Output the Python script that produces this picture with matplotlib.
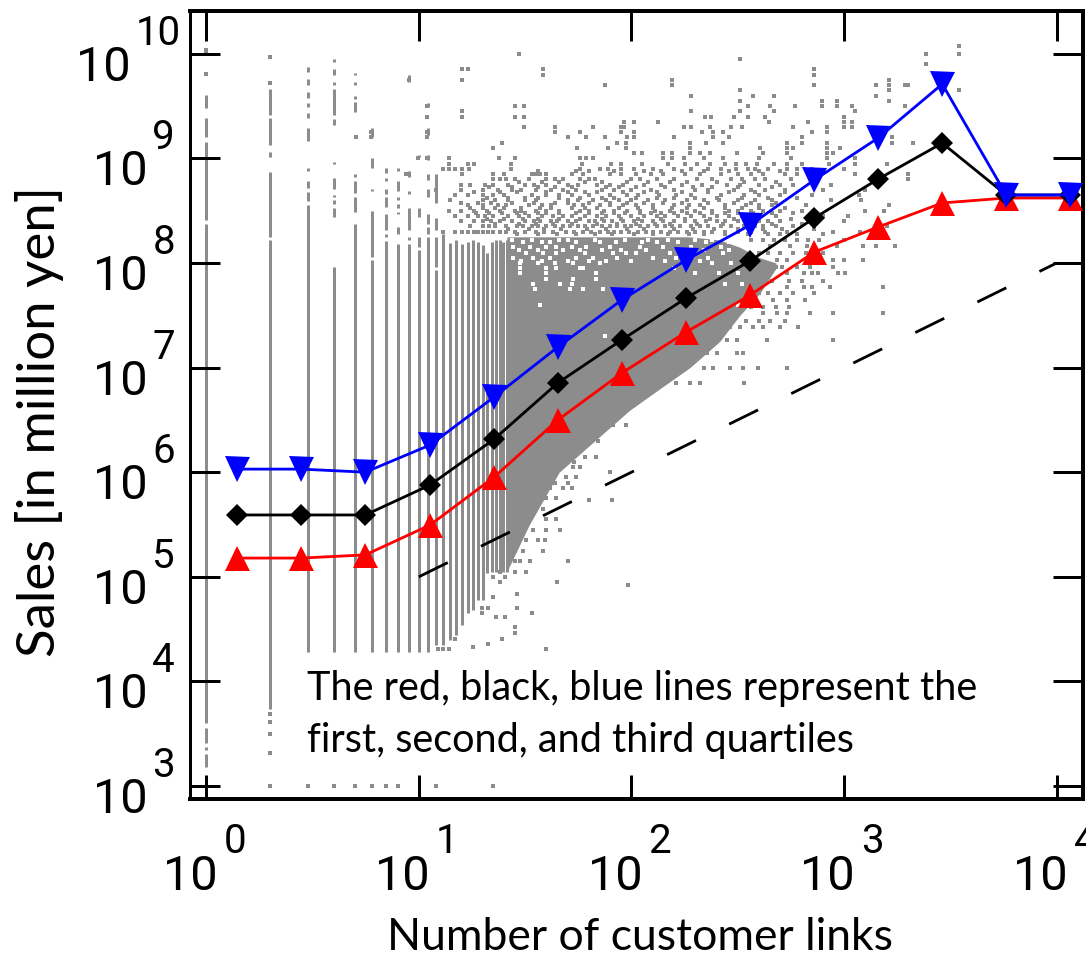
import matplotlib
matplotlib.use('Agg')
import matplotlib.pyplot as plt

# quartile curves
bin_x = [1.39, 2.8, 5.6, 11.3, 22.6, 45, 90, 181, 362, 724, 1448, 2896, 5792, 11585]
q1 = [1.51e5, 1.51e5, 1.62e5, 3.13e5, 8.99e5, 3.15e6, 8.87e6, 2.19e7, 4.94e7, 1.27e8, 2.21e8, 3.75e8, 4.18e8, 4.18e8]
q2 = [3.90e5, 3.90e5, 3.90e5, 7.55e5, 2.07e6, 7.13e6, 1.84e7, 4.63e7, 1.05e8, 2.69e8, 6.35e8, 1.40e9, 4.47e8, 4.47e8]
q3 = [1.07e6, 1.07e6, 1.00e6, 1.82e6, 5.24e6, 1.57e7, 4.43e7, 1.07e8, 2.31e8, 6.21e8, 1.57e9, 5.14e9, 4.47e8, 4.47e8]

guide_x = [10, 10000]
guide_y = [1e5, 1e8]

# vertical runs at integer link counts: x, log10 low, log10 high
col_x = [1, 1, 1, 1, 1, 1, 1, 1,
         2, 2, 2, 2, 2,
         3, 3, 3, 3, 3, 3, 3, 3, 3, 3,
         4, 4, 4, 4, 4, 4, 4, 4, 4, 4, 4,
         5, 5, 5, 5, 5, 5, 5, 5, 5,
         6, 6, 6, 6, 6,
         7, 7, 7, 7, 7, 7, 7,
         8, 8, 8, 8, 8, 8, 8,
         9, 9, 9, 9, 9, 9,
         10, 10, 10, 10,
         11, 11, 11, 11, 11, 11, 11, 11,
         12, 12, 12, 12,
         13, 14, 15, 16, 17, 18, 19, 20, 21, 22, 23, 24, 25, 26]
col_lo = [9.478, 9.207, 8.41, 3.60, 3.41, 3.345, 3.185, 3.0,
          9.415, 9.128, 9.01, 8.25, 3.74,
          9.83, 9.70, 9.574, 9.49, 9.39, 9.17, 8.88, 8.72, 8.59, 4.284,
          9.92, 9.80, 9.70, 9.415, 9.32, 8.95, 8.71, 8.63, 8.56, 8.44, 4.284,
          9.80, 9.70, 9.567, 9.446, 9.20, 8.82, 8.67, 8.49, 4.284,
          9.2, 8.91, 8.69, 8.06, 4.284,
          8.86, 8.78, 8.66, 8.54, 8.315, 8.25, 4.284,
          8.88, 8.69, 8.60, 8.53, 8.47, 8.28, 4.284,
          9.73, 8.82, 8.66, 8.315, 8.22, 4.284,
          9.01, 8.44, 8.155, 4.284,
          9.49, 9.22, 8.98, 8.79, 8.63, 8.37, 8.28, 4.284,
          8.57, 8.315, 7.965, 4.35,
          4.35, 4.40, 4.44, 4.54, 4.65, 4.68, 4.78, 4.78, 5.04, 5.05, 5.05, 5.05, 5.05, 5.05]
col_hi = [9.606, 9.383, 9.16, 8.37, 3.55, 3.375, 3.31, 3.09,
          9.66, 9.383, 9.06, 8.87, 8.22,
          9.875, 9.756, 9.63, 9.53, 9.437, 9.287, 8.905, 8.78, 8.68, 8.554,
          9.95, 9.85, 9.73, 9.66, 9.38, 8.97, 8.81, 8.65, 8.60, 8.53, 7.965,
          9.82, 9.727, 9.60, 9.535, 9.22, 8.85, 8.78, 8.63, 8.37,
          9.287, 9.0, 8.71, 8.50, 8.03,
          8.905, 8.81, 8.71, 8.63, 8.47, 8.28, 8.21,
          8.905, 8.78, 8.63, 8.56, 8.49, 8.347, 8.18,
          9.80, 8.88, 8.69, 8.53, 8.245, 8.18,
          9.03, 8.53, 8.245, 8.12,
          9.53, 9.287, 9.03, 8.85, 8.71, 8.47, 8.34, 8.245,
          8.85, 8.43, 8.245, 7.93,
          8.28, 8.19, 8.22, 8.18, 8.2, 8.22, 8.2, 8.17, 8.1, 8.2, 8.22, 8.22, 8.2, 8.22]

# solid part of the cloud
body_logx = [1.414, 1.52, 1.66, 1.85, 1.99, 2.135, 2.275, 2.415, 2.51, 2.604, 2.68]
body_lo = [5.05, 5.50, 6.0, 6.34, 6.59, 6.80, 7.0, 7.25, 7.50, 7.71, 7.95]
body_hi = [8.25, 8.25, 8.25, 8.25, 8.25, 8.25, 8.25, 8.22, 8.15, 8.05, 8.0]

# scattered firms, one row per log10 sales, positions as log10 links
speck_y = [10.07, 10.04, 10.0, 9.97, 9.95, 9.9, 9.85, 9.81, 9.8, 9.75, 9.72, 9.7, 9.65, 9.6, 9.55, 9.5, 9.45, 9.4, 9.35,
           9.3, 9.25, 9.2, 9.15, 9.1, 9.05, 9.0, 8.95, 8.9, 8.85, 8.8, 8.75, 8.7, 8.65, 8.6, 8.55, 8.5, 8.45, 8.4, 8.35, 8.3,
           8.16, 8.03, 7.9, 7.77, 7.65, 7.52, 7.39, 7.26, 7.14, 7.0, 6.85,
           6.45, 6.3, 6.15, 6.05, 6.0, 5.95, 5.85, 5.75, 5.73, 5.65, 5.55, 5.45, 5.35, 5.25, 5.15, 5.05,
           5.0, 4.95, 4.92, 4.84, 4.81, 4.7, 4.65, 4.62, 4.52, 4.46, 4.41, 4.36, 4.33, 4.31, 3.69, 3.615, 3.5, 3.32, 3.0,
           8.425, 8.375, 8.325, 8.275, 8.22, 8.1, 7.96, 7.83, 7.71, 7.58, 7.45,
           8.875, 8.775, 8.725, 8.675, 8.625, 8.575, 8.525, 8.475,
           6.55, 6.4, 6.25, 6.2, 6.1, 5.9]
speck_logx = [
    [3.54], [0.0], [1.47, 0.0, 3.385, 3.54], [0.301], [2.51], [3.385],
    [1.205, 1.23, 1.585, 2.86], [0.0], [1.585, 2.86], [0.955, 1.205, 2.19, 3.21], [0.301],
    [1.875, 2.19, 2.86, 3.15, 3.21, 3.285, 3.30], [2.51, 3.21, 3.54], [2.28, 2.57, 2.67, 3.15],
    [2.51, 2.895, 2.965, 3.21], [1.04, 1.45, 1.495, 2.55, 2.65, 2.77, 2.895, 2.965, 3.035, 3.285],
    [1.205, 2.28, 2.51, 2.67, 3.05], [1.04, 1.205, 1.45, 1.495, 2.345, 2.375, 2.48, 2.55, 2.63, 3.0],
    [1.965, 2.01, 2.125, 2.645, 2.83, 3.0, 3.035],
    [1.495, 1.64, 1.82, 1.95, 1.965, 2.245, 2.28, 2.37, 2.47, 2.52, 2.76, 2.92, 3.0, 3.035],
    [0.775, 1.04, 1.64, 1.757, 1.95, 2.01, 2.33, 2.385, 2.43, 2.85, 2.92],
    [0.705, 0.775, 1.04, 1.70, 1.785, 1.875, 1.98, 2.01, 2.2, 2.385, 2.46, 2.8, 3.225],
    [1.39, 1.934, 1.975, 2.275, 2.35, 2.43, 2.73, 2.8, 2.92, 3.225, 3.325],
    [1.35, 1.744, 1.89, 1.975, 2.275, 2.605, 2.73, 2.76, 2.92, 2.98],
    [2.01, 2.05, 2.15, 2.19, 2.275, 2.32, 2.37, 2.495, 2.62, 2.73, 2.92, 2.95],
    [0.997, 1.04, 1.143, 1.378, 1.45, 1.757, 1.785, 1.82, 2.15, 2.19, 2.245, 2.34, 2.43, 2.6, 2.75, 2.92, 3.05],
    [1.143, 1.23, 1.26, 1.435, 1.765, 1.906, 1.953, 2.05, 2.17, 2.25, 2.31, 2.37, 2.44, 2.49, 2.54, 2.59, 2.67, 2.73, 2.8, 2.93, 3.05, 3.2],
    [1.115, 1.143, 1.17, 1.205, 1.235, 1.435, 1.76, 1.85, 1.89, 1.95, 2.01, 2.1, 2.2, 2.28, 2.36, 2.42, 2.49, 2.55, 2.58, 2.64, 2.73, 2.78, 2.85, 3.0],
    [0.94, 1.205, 1.35, 1.4, 1.53, 1.55, 1.57, 1.6, 1.72, 1.77, 1.9, 1.95, 2.02, 2.09, 2.15, 2.25, 2.32, 2.42, 2.5, 2.56, 2.62, 2.72, 2.78, 2.86, 3.05, 3.3],
    [1.35, 1.38, 1.41, 1.45, 1.52, 1.6, 1.64, 1.68, 1.76, 1.8, 1.83, 2.0, 2.04, 2.12, 2.2, 2.31, 2.38, 2.47, 2.52, 2.58, 2.63, 2.75, 2.85, 3.3],
    [1.2, 1.24, 1.31, 1.35, 1.42, 1.5, 1.54, 1.6, 1.7, 1.75, 1.84, 1.9, 1.96, 2.06, 2.14, 2.24, 2.33, 2.45, 2.51, 2.6, 2.7, 2.76, 2.94],
    [1.08, 1.2, 1.3, 1.37, 1.44, 1.48, 1.55, 1.62, 1.68, 1.74, 1.86, 1.92, 2.0, 2.09, 2.2, 2.3, 2.36, 2.48, 2.56, 2.63, 2.72, 2.9, 3.1],
    [1.17, 1.23, 1.3, 1.35, 1.4, 1.53, 1.6, 1.66, 1.72, 1.8, 1.9, 1.98, 2.03, 2.13, 2.21, 2.28, 2.42, 2.53, 2.6, 2.7, 2.85, 3.07],
    [1.145, 1.3, 1.36, 1.42, 1.5, 1.55, 1.7, 1.75, 1.82, 1.88, 1.94, 2.0, 2.08, 2.16, 2.26, 2.34, 2.41, 2.5, 2.58, 2.66, 2.94, 3.08],
    [1.23, 1.3, 1.37, 1.41, 1.52, 1.58, 1.62, 1.73, 1.77, 1.85, 1.9, 1.96, 2.02, 2.1, 2.2, 2.27, 2.32, 2.44, 2.54, 2.6, 2.66, 2.82, 3.21],
    [1.14, 1.2, 1.26, 1.32, 1.38, 1.45, 1.48, 1.55, 1.6, 1.66, 1.76, 1.8, 1.87, 1.92, 1.98, 2.04, 2.11, 2.18, 2.24, 2.3, 2.38, 2.46, 2.5, 2.56, 2.62, 2.7, 2.8, 3.1, 3.19],
    [1.17, 1.23, 1.28, 1.31, 1.35, 1.42, 1.47, 1.52, 1.58, 1.63, 1.68, 1.72, 1.78, 1.84, 1.88, 1.94, 2.0, 2.06, 2.12, 2.16, 2.22, 2.28, 2.34, 2.4, 2.46, 2.52, 2.58, 2.68, 2.9, 3.02],
    [1.2, 1.26, 1.3, 1.34, 1.38, 1.44, 1.5, 1.54, 1.57, 1.62, 1.65, 1.7, 1.74, 1.8, 1.83, 1.87, 1.91, 1.96, 2.01, 2.05, 2.1, 2.15, 2.2, 2.25, 2.3, 2.35, 2.4, 2.44, 2.5, 2.55, 2.6, 2.64, 2.7, 2.83, 3.0],
    [1.24, 1.3, 1.33, 1.36, 1.41, 1.46, 1.49, 1.53, 1.56, 1.6, 1.64, 1.68, 1.71, 1.75, 1.78, 1.82, 1.86, 1.9, 1.93, 1.97, 2.0, 2.04, 2.08, 2.12, 2.16, 2.19, 2.23, 2.28, 2.32, 2.36, 2.42, 2.47, 2.53, 2.58, 2.62, 2.68, 2.76, 3.2],
    [1.115, 1.17, 1.205, 1.23, 1.26, 1.28, 1.3, 1.326, 1.35, 1.38, 1.41, 1.45, 1.5, 1.55, 1.59, 1.63, 1.69, 1.73, 1.77, 1.81, 1.85, 1.89, 1.92, 1.95, 1.99, 2.03, 2.07, 2.1, 2.14, 2.18, 2.22, 2.26, 2.3, 2.34, 2.38, 2.44, 2.5, 2.56, 2.63, 2.73, 2.949, 3.075],
    [2.65, 2.745, 2.824, 2.965, 3.09, 3.15, 3.24],
    [2.683, 2.73, 2.847, 2.95, 3.0, 3.09],
    [2.73, 2.81, 2.847, 2.879, 2.973, 3.004],
    [2.73, 2.81, 2.847, 2.933, 3.184],
    [2.667, 2.73, 2.816],
    [2.62, 2.683, 2.73, 2.84, 2.95, 3.184],
    [2.463, 2.51, 2.573, 2.62, 2.70, 2.785],
    [2.40, 2.448, 2.495, 2.636, 2.95],
    [2.354, 2.40, 2.495, 2.526],
    [2.34, 2.385, 2.463, 2.526, 2.597, 2.73],
    [2.15, 2.21, 2.275, 2.32, 2.53],
    [1.804, 1.851, 1.914, 1.976], [1.757, 1.804, 1.843], [1.726, 1.78, 1.835],
    [1.60, 1.663, 1.726, 1.757], [1.90], [1.585, 1.632, 1.694, 1.741], [1.577, 1.616, 1.679, 1.718],
    [1.561, 1.60, 1.647], [1.80, 1.91], [1.553, 1.585], [1.522, 1.60, 1.647],
    [1.491, 1.538, 1.60, 1.663], [1.459, 1.506, 1.561, 1.592], [1.451, 1.491, 1.585],
    [1.451, 1.475, 1.522, 1.70], [1.38, 1.451, 1.506],
    [1.35, 1.405], [1.38, 1.65], [1.985], [1.46], [1.35], [1.295, 1.326, 1.46],
    [1.295, 1.53], [1.365, 1.405], [1.45], [1.45], [1.39, 1.17], [1.326], [1.255], [1.09, 1.115, 1.14, 1.6],
    [0.301], [0.301], [0.301], [0.301],
    [0.301, 0.477, 0.602, 0.699, 0.778, 0.845, 0.903, 1.079, 1.35],
    [1.32, 1.4, 1.49, 1.56, 1.66, 1.76, 1.86, 1.95, 2.03, 2.14, 2.25, 2.37, 2.48, 2.6, 2.75],
    [1.36, 1.47, 1.55, 1.63, 1.72, 1.84, 1.93, 2.02, 2.11, 2.18, 2.31, 2.43, 2.56, 2.66, 2.8],
    [1.42, 1.52, 1.59, 1.67, 1.79, 1.88, 1.98, 2.06, 2.2, 2.29, 2.39, 2.5, 2.62, 2.71, 2.86],
    [1.46, 1.56, 1.65, 1.74, 1.83, 1.91, 2.01, 2.1, 2.17, 2.27, 2.34, 2.44, 2.55, 2.64, 2.7, 2.78, 2.9],
    [2.56, 2.62, 2.67, 2.72, 2.78, 2.83, 2.88, 3.0],
    [2.6, 2.64, 2.7, 2.76, 2.82, 2.9],
    [2.62, 2.68, 2.71, 2.78, 2.84, 2.95],
    [2.56, 2.62, 2.66, 2.74, 2.8, 2.9],
    [2.52, 2.6, 2.64, 2.7, 2.76, 2.86],
    [2.5, 2.56, 2.62, 2.68, 2.74],
    [2.47, 2.54, 2.6, 2.65, 2.72],
    [1.56, 1.74, 1.8, 1.92, 2.06, 2.14, 2.24, 2.34, 2.46, 2.6, 2.7],
    [1.47, 1.58, 1.66, 1.78, 1.86, 1.98, 2.08, 2.18, 2.26, 2.4, 2.53, 2.68],
    [1.33, 1.44, 1.56, 1.64, 1.72, 1.88, 1.94, 2.02, 2.16, 2.29, 2.38, 2.5, 2.66],
    [1.26, 1.38, 1.46, 1.6, 1.7, 1.78, 1.84, 1.96, 2.06, 2.12, 2.24, 2.36, 2.46, 2.58, 2.72],
    [1.32, 1.42, 1.5, 1.56, 1.66, 1.76, 1.86, 1.92, 2.02, 2.12, 2.2, 2.3, 2.4, 2.52, 2.64, 2.78],
    [1.2, 1.28, 1.34, 1.44, 1.54, 1.64, 1.7, 1.8, 1.9, 1.98, 2.06, 2.15, 2.24, 2.36, 2.48, 2.56, 2.68],
    [1.24, 1.3, 1.36, 1.4, 1.48, 1.57, 1.62, 1.72, 1.78, 1.84, 1.94, 2.03, 2.1, 2.19, 2.26, 2.34, 2.44, 2.52, 2.6, 2.72],
    [1.27, 1.33, 1.39, 1.46, 1.5, 1.56, 1.6, 1.66, 1.74, 1.8, 1.86, 1.92, 1.97, 2.04, 2.09, 2.14, 2.2, 2.26, 2.32, 2.38, 2.44, 2.5, 2.57, 2.66, 2.76],
    [1.72, 1.78, 1.82, 1.87], [1.7, 1.75, 1.81], [1.66, 1.72, 1.77], [1.69, 1.74], [1.64, 1.69, 1.73], [1.59, 1.64, 1.7]]

# white gaps inside the solid part
hole_y = [8.22, 8.2, 8.15, 8.12, 8.1, 8.05, 8.02, 8.0, 7.95, 7.9, 7.85, 7.8, 7.75, 7.6, 7.3]
hole_logx = [
    [1.44, 1.53, 1.66, 1.7, 1.83, 1.97, 2.08, 2.17, 2.3, 2.38],
    [1.491, 1.577, 1.616, 1.741, 1.851, 1.929, 2.05, 2.12, 2.22, 2.35, 2.46],
    [1.444, 1.522, 1.60, 1.647, 1.718, 1.788, 1.898, 2.04, 2.15, 2.28, 2.42],
    [1.47, 1.56, 1.68, 1.76, 1.86, 1.95, 2.07, 2.24, 2.34, 2.46],
    [1.506, 1.585, 1.647, 1.78, 1.914, 1.976, 2.02, 2.18, 2.3, 2.43],
    [1.444, 1.538, 1.616, 1.741, 1.82, 1.93, 2.1, 2.21, 2.36],
    [1.48, 1.58, 1.7, 1.8, 1.88, 2.0, 2.16, 2.32],
    [1.475, 1.561, 1.64, 1.726, 1.851, 2.26, 2.38, 2.47],
    [1.475, 1.6, 1.647, 1.757, 1.773, 2.2],
    [1.475, 1.6, 1.835, 2.3, 2.41, 2.5],
    [1.6, 1.726, 1.835],
    [1.538, 1.663, 1.718, 2.44, 2.52],
    [1.545, 1.71, 1.773, 1.867],
    [1.57, 2.5],
    [1.875]]

x_decades = [0, 1, 2, 3, 4]
y_decades = [3, 4, 5, 6, 7, 8, 9, 10]
notes = ['The red, black, blue lines represent the', 'first, second, and third quartiles']

gray = '#8c8c8c'
W, H = 1086, 957
px = 0.72

fig = plt.figure(figsize=(W / 100, H / 100), dpi=100)
ax = fig.add_axes([190.4 / W, 1 - 799 / H, (1083 - 190.4) / W, (799 - 11) / H])
ax.set_xscale('log')
ax.set_yscale('log')
ax.set_xlim(0.842, 13300)
ax.set_ylim(751, 2.565e10)

# cloud
ax.vlines(col_x, [10 ** v for v in col_lo], [10 ** v for v in col_hi], color=gray, lw=3 * px, zorder=1)
ax.fill_between([10 ** v for v in body_logx], [10 ** v for v in body_lo], [10 ** v for v in body_hi],
                color=gray, lw=0, zorder=1)
for y, row in zip(speck_y, speck_logx):
    ax.plot([10 ** v for v in row], [10 ** y] * len(row), ls='none', marker='s', ms=4.4 * px, mew=0, color=gray, zorder=1)
for y, row in zip(hole_y, hole_logx):
    ax.plot([10 ** v for v in row], [10 ** y] * len(row), ls='none', marker='s', ms=4 * px, mew=0, color='white', zorder=1.5)

ax.plot(guide_x, guide_y, color='black', lw=2.8 * px, ls=(0, (11.5, 13.2)), zorder=2)

# quartiles
ax.plot(bin_x, q1, color='#ff0000', lw=2.8 * px, marker='^', ms=25 * px, mew=0, zorder=3)
ax.plot(bin_x, q2, color='black', lw=2.8 * px, marker='D', ms=16 * px, mew=0, zorder=3.1)
ax.plot(bin_x, q3, color='#0000ff', lw=2.8 * px, marker='v', ms=25 * px, mew=0, zorder=3.2)

# frame and ticks
for side, spine in ax.spines.items():
    spine.set_linewidth(4 * px if side != 'left' else 3 * px)
ax.set_xticks([10 ** d for d in x_decades])
ax.set_yticks([10 ** d for d in y_decades])
ax.minorticks_off()
ax.tick_params(which='major', direction='in', top=True, right=True, length=30 * px, width=3 * px,
               labelbottom=False, labelleft=False)
for t in ax.xaxis.get_major_ticks():
    t.tick1line.set_markersize(24 * px)

# tick labels, gnuplot style: base and exponent as separate pieces
tick_font = 'Roboto'
for d in x_decades:
    ax.annotate('10', (10 ** d, 0), xycoords=ax.get_xaxis_transform(), xytext=(11 * px, -91 * px),
                textcoords='offset points', ha='right', va='baseline', fontsize=35, family=tick_font,
                annotation_clip=False)
    ax.annotate(str(d), (10 ** d, 0), xycoords=ax.get_xaxis_transform(), xytext=(17 * px, -54 * px),
                textcoords='offset points', ha='left', va='baseline', fontsize=29, family=tick_font,
                annotation_clip=False)
for d in y_decades:
    base_right = -60 if d == 10 else -43
    ax.annotate('10', (0, 10 ** d), xycoords=ax.get_yaxis_transform(), xytext=(base_right * px, -27 * px),
                textcoords='offset points', ha='right', va='baseline', fontsize=35, family=tick_font,
                annotation_clip=False)
    ax.annotate(str(d), (0, 10 ** d), xycoords=ax.get_yaxis_transform(), xytext=((base_right + 5) * px, 9 * px),
                textcoords='offset points', ha='left', va='baseline', fontsize=29, family=tick_font,
                annotation_clip=False)

label_font = 'Lato'
fig.text(640 / W, 1 - 938 / H, 'Number of customer links', ha='center', va='center', fontsize=32, family=label_font)
fig.text(40 / W, 1 - 422 / H, 'Sales [in million yen]', ha='center', va='center', rotation=90, fontsize=38, family=label_font)
fig.text(307 / W, 1 - 700 / H, notes[0], ha='left', va='baseline', fontsize=28.5, family=label_font)
fig.text(307 / W, 1 - 752 / H, notes[1], ha='left', va='baseline', fontsize=28.5, family=label_font)

fig.savefig('out.png', dpi=100)
